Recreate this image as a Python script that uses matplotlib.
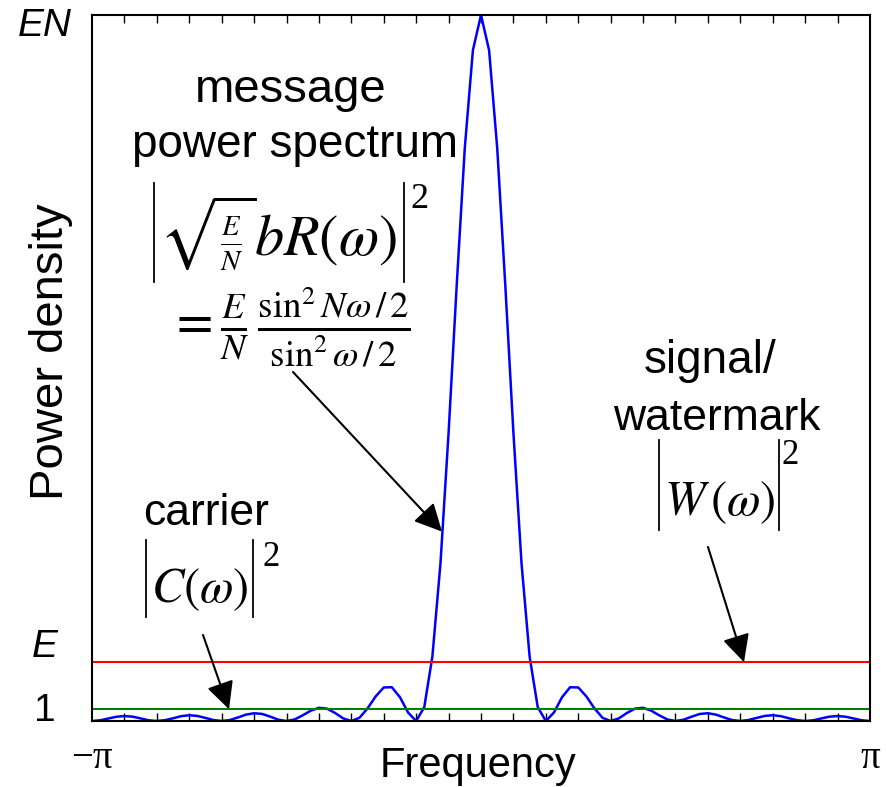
import numpy as np
import matplotlib
matplotlib.use('Agg')
import matplotlib.pyplot as plt
import matplotlib.transforms as mtransforms
from matplotlib.lines import Line2D

plt.rcParams['font.family'] = ['Liberation Sans', 'DejaVu Sans']
plt.rcParams['mathtext.fontset'] = 'stix'

# message power spectrum, -pi..pi in steps of pi/48
message_power = [
    0.0, 0.06, 0.21, 0.36, 0.42, 0.37, 0.22, 0.06,
    0.0, 0.07, 0.23, 0.41, 0.49, 0.43, 0.26, 0.08,
    0.0, 0.08, 0.30, 0.54, 0.66, 0.60, 0.37, 0.11,
    0.0, 0.13, 0.48, 0.88, 1.12, 1.05, 0.68, 0.22,
    0.0, 0.27, 1.07, 2.09, 2.85, 2.87, 2.02, 0.72,
    0.0, 1.18, 5.47, 13.4, 24.5, 37.0, 48.7, 57.0,
    60.0,
    57.0, 48.7, 37.0, 24.5, 13.4, 5.47, 1.18, 0.0,
    0.72, 2.02, 2.87, 2.85, 2.09, 1.07, 0.27, 0.0,
    0.22, 0.68, 1.05, 1.12, 0.88, 0.48, 0.13, 0.0,
    0.11, 0.37, 0.60, 0.66, 0.54, 0.30, 0.08, 0.0,
    0.08, 0.26, 0.43, 0.49, 0.41, 0.23, 0.07, 0.0,
    0.06, 0.22, 0.37, 0.42, 0.36, 0.21, 0.06, 0.0,
]
carrier_level = 1.0   # |C(w)|^2
signal_level = 5.0    # E, |W(w)|^2
peak_level = 60.0     # EN
level_labels = ['1', 'E', 'EN']
n_ticks = 24          # minor ticks every pi/12

W, H = 887, 787


def fig_xy(px, py):
    # image pixel (top-left origin) -> figure fraction
    return px / W, 1 - py / H


freq = np.linspace(-np.pi, np.pi, len(message_power))

fig = plt.figure(figsize=(W / 100, H / 100), dpi=100)
ax = fig.add_axes([92 / W, 66 / H, 778 / W, 706 / H])
renderer = fig.canvas.get_renderer()

ax.plot(freq, message_power, color='#0000ff', lw=1.8)
ax.axhline(signal_level, color='#ff0000', lw=1.5)
ax.axhline(carrier_level, color='#008000', lw=1.5)

ax.set_xlim(-np.pi, np.pi)
ax.set_ylim(0, peak_level)

ax.set_xticks([-np.pi, np.pi])
ax.set_xticklabels(['\u2212\u03c0', '\u03c0'], family='Liberation Serif', fontsize=28)
ax.set_xticks(np.linspace(-np.pi, np.pi, n_ticks + 1), minor=True)
ax.tick_params(axis='x', which='both', direction='in', top=True, length=6, width=1)
ax.tick_params(axis='x', which='major', pad=14, length=0)
ax.set_yticks([])
for sp in ax.spines.values():
    sp.set_linewidth(1.5)

# level labels left of the axes
trans = mtransforms.blended_transform_factory(ax.transAxes, ax.transData)
level_vals = [carrier_level, signal_level, peak_level]
level_off = [-1, 11, -8]
level_style = ['normal', 'italic', 'italic']
for lab, val, off, st in zip(level_labels, level_vals, level_off, level_style):
    ax.annotate(lab, xy=(-0.0604, val), xycoords=trans, xytext=(0, off),
                textcoords='offset points', ha='center', va='center',
                fontsize=28, style=st)

fig.text(*fig_xy(51, 352), 'Power density', rotation=90, ha='center',
         va='center', fontsize=34)
fig.text(*fig_xy(478, 766), 'Frequency', ha='center', va='center', fontsize=30)


def abs_squared(expr, cx, cy, size, bar_top, bar_bot, gap_l, gap_r, sup_dx, sup_y, sup_size):
    # |expr|^2 with thin tall bars like the original equation editor output
    t = fig.text(*fig_xy(cx, cy), expr, ha='center', va='center', fontsize=size)
    bb = t.get_window_extent(renderer)
    xl = bb.x0 - gap_l
    xr = bb.x1 + gap_r
    for xb in (xl, xr):
        fig.add_artist(Line2D([xb / W, xb / W], [1 - bar_top / H, 1 - bar_bot / H],
                              transform=fig.transFigure, color='black', lw=1.3))
    fig.text((xr + sup_dx) / W, 1 - sup_y / H, '2', family='Liberation Serif',
             ha='left', va='center', fontsize=sup_size)


# annotations
fig.text(*fig_xy(291, 102), 'message', ha='center', va='baseline', fontsize=34)
fig.text(*fig_xy(295, 157), 'power spectrum', ha='center', va='baseline', fontsize=33)
abs_squared(r'$\sqrt{\genfrac{}{}{1.0}{2}{E}{N}}bR(\omega)$', 278, 233, 42,
            183, 282, 5, 7, 6, 200, 26)
fig.text(*fig_xy(290, 327), r'$=\frac{E}{N}\,\frac{\sin^2 N\omega\,/\,2}{\sin^2\omega\,/\,2}$',
         ha='center', va='center', fontsize=38)

fig.text(*fig_xy(206, 525), 'carrier', ha='center', va='baseline', fontsize=32)
abs_squared(r'$C(\omega)$', 200, 590, 35, 540, 617, 5, 4, 10, 558, 25)

fig.text(*fig_xy(710, 373), 'signal/', ha='center', va='baseline', fontsize=33)
fig.text(*fig_xy(717, 430), 'watermark', ha='center', va='baseline', fontsize=32)
abs_squared(r'$W\,(\omega)$', 720, 503, 35, 440, 530, 5, 3, 3, 456, 25)

arrow = dict(arrowstyle='-|>', color='black', lw=1.5, mutation_scale=42,
             shrinkA=0, shrinkB=0)
ax.annotate('', xy=(-0.315, 16.1), xytext=fig_xy(293, 372),
            textcoords='figure fraction', arrowprops=arrow)
ax.annotate('', xy=(-2.035, carrier_level), xytext=fig_xy(203, 635),
            textcoords='figure fraction', arrowprops=arrow)
ax.annotate('', xy=(2.124, signal_level), xytext=fig_xy(708, 547),
            textcoords='figure fraction', arrowprops=arrow)

fig.savefig('out.png', dpi=100)
